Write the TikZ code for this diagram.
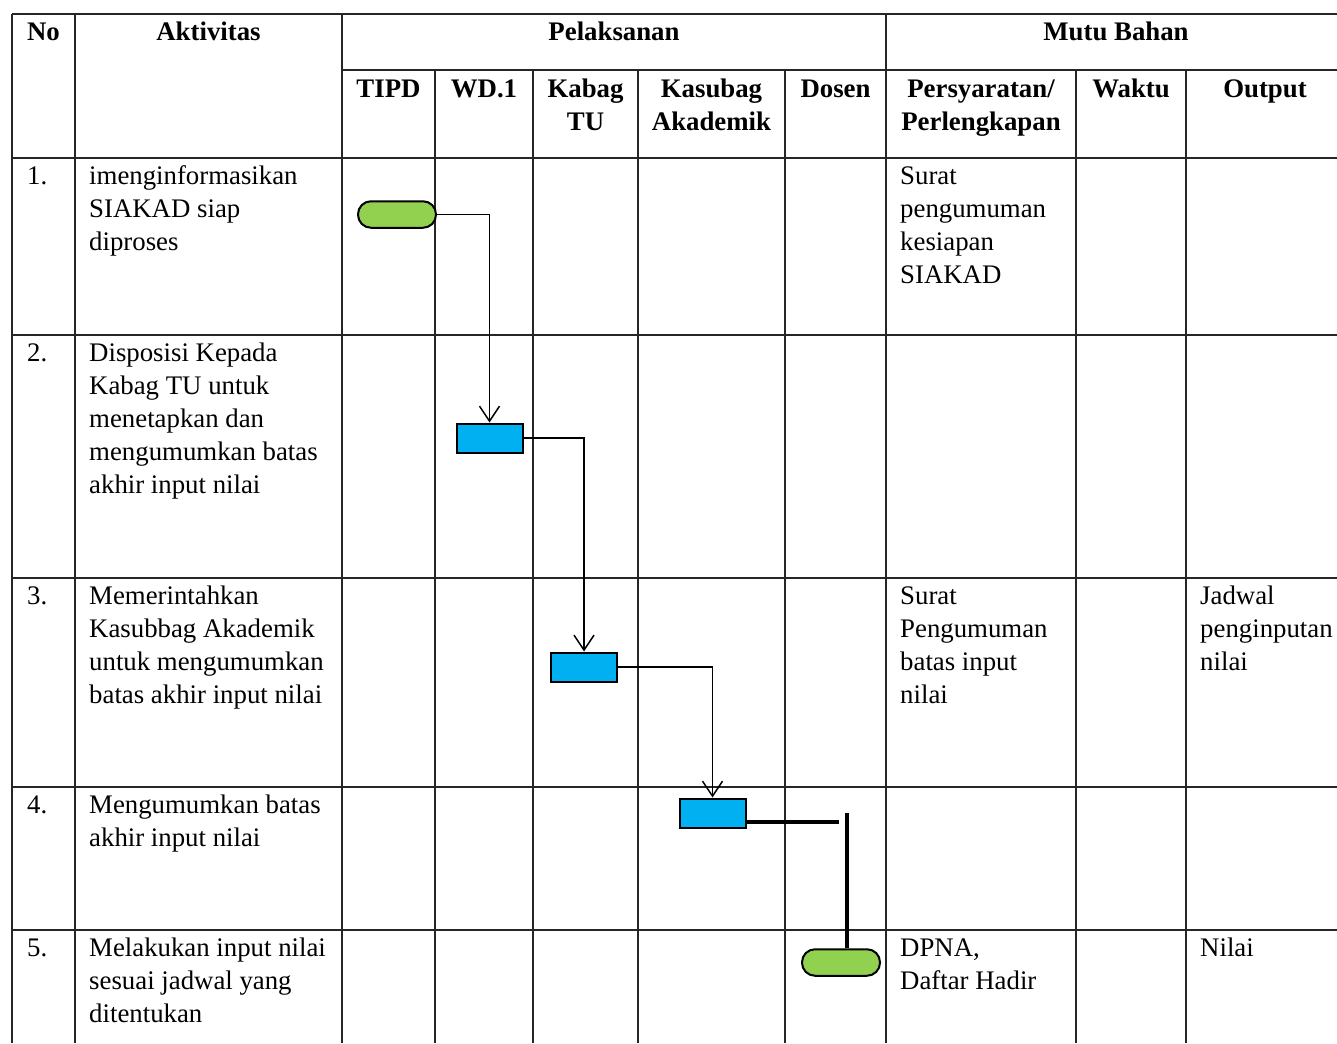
\documentclass[tikz,border=0pt]{standalone}
\usepackage{fontspec}
\setmainfont{Liberation Serif}
\usetikzlibrary{arrows.meta}
\definecolor{procblue}{HTML}{00B0F0}
\definecolor{termgreen}{HTML}{92D050}
\begin{document}
\begin{tikzpicture}[x=1pt,y=-1pt,
  grid/.style={line width=1.3pt, draw=black!85},
  tx/.style={anchor=north west, inner sep=0pt, align=left, font=\fontsize{26.8}{33}\selectfont},
  hd/.style={anchor=north, inner sep=0pt, align=center, font=\fontsize{26.8}{33}\selectfont\bfseries},
  proc/.style={draw=black, line width=2pt, fill=procblue, minimum width=66pt, minimum height=29pt, inner sep=0pt},
  term/.style={draw=black, line width=2pt, fill=termgreen, rounded corners=13pt, minimum width=78pt, minimum height=26.5pt, inner sep=0pt},
  flow/.style={line width=1.4pt, -{Straight Barb[length=15pt,width=20pt,line width=1.5pt]}},
  heavy/.style={line width=4.8pt}
]
\useasboundingbox (0,0) rectangle (1337,1043);
\fill[white] (0,0) rectangle (1337,1043);

% grid
\draw[grid] (12,14) -- (1337,14);
\draw[grid] (342,70) -- (1337,70);
\foreach \yy in {158,335,578,787,930} \draw[grid] (12,\yy) -- (1337,\yy);
\foreach \xx in {12,75,342,886} \draw[grid] (\xx,14) -- (\xx,1043);
\foreach \xx in {435,533,638,785,1076,1186} \draw[grid] (\xx,70) -- (\xx,1043);

% headers
\node[hd] (hNo) at (43.5,16.9) {\strut No};
\node[hd] (hAkt) at (208.5,16.9) {\strut Aktivitas};
\node[hd] (hPel) at (614,16.9) {\strut Pelaksanan};
\node[hd] (hMutu) at (1116,16.9) {\strut Mutu Bahan};
\node[hd] (hTIPD) at (388.5,73.9) {\strut TIPD};
\node[hd] (hWD) at (484,73.9) {\strut WD.1};
\node[hd] (hKab) at (585.5,73.9) {\strut Kabag\\\strut TU};
\node[hd] (hKas) at (711.5,73.9) {\strut Kasubag\\\strut Akademik};
\node[hd] (hDos) at (835.5,73.9) {\strut Dosen};
\node[hd] (hPers) at (981,73.9) {\strut Persyaratan/\\\strut Perlengkapan};
\node[hd] (hWak) at (1131,73.9) {\strut Waktu};
\node[hd] (hOut) at (1265,73.9) {\strut Output};

% row 1
\node[tx] (n1) at (27,160.9) {\strut 1.};
\node[tx] (a1) at (89,160.9) {\strut imenginformasikan\\\strut SIAKAD siap\\\strut diproses};
\node[tx] (p1) at (900,160.9) {\strut Surat\\\strut pengumuman\\\strut kesiapan\\\strut SIAKAD};
% row 2
\node[tx] (n2) at (27,337.9) {\strut 2.};
\node[tx] (a2) at (89,337.9) {\strut Disposisi Kepada\\\strut Kabag TU untuk\\\strut menetapkan dan\\\strut mengumumkan batas\\\strut akhir input nilai};
% row 3
\node[tx] (n3) at (27,580.9) {\strut 3.};
\node[tx] (a3) at (89,580.9) {\strut Memerintahkan\\\strut Kasubbag Akademik\\\strut untuk mengumumkan\\\strut batas akhir input nilai};
\node[tx] (p3) at (900,580.9) {\strut Surat\\\strut Pengumuman\\\strut batas input\\\strut nilai};
\node[tx] (o3) at (1200,580.9) {\strut Jadwal\\\strut penginputan\\\strut nilai};
% row 4
\node[tx] (n4) at (27,789.9) {\strut 4.};
\node[tx] (a4) at (89,789.9) {\strut Mengumumkan batas\\\strut akhir input nilai};
% row 5
\node[tx] (n5) at (27,932.9) {\strut 5.};
\node[tx] (a5) at (89,932.9) {\strut Melakukan input nilai\\\strut sesuai jadwal yang\\\strut ditentukan};
\node[tx] (p5) at (900,932.9) {\strut DPNA,\\\strut Daftar Hadir};
\node[tx] (o5) at (1200,932.9) {\strut Nilai};

% flow shapes
\node[term] (g1) at (397,214.5) {};
\node[proc] (b2) at (489.5,438) {};
\node[proc] (b3) at (584,667) {};
\node[proc] (b4) at (712.5,813) {};
\node[term] (g2) at (841,962.5) {};

\draw[flow] (g1.east) -| (b2.north);
\draw[flow] (b2.east) -| (b3.north);
\draw[flow] (b3.east) -| (b4.north);

\coordinate (h4end) at (839,822);
\coordinate (vtop) at (847,813);
\draw[heavy] (b4.east |- h4end) -- (h4end);
\draw[heavy] (vtop) -- (vtop |- g2.north);
\end{tikzpicture}
\end{document}
